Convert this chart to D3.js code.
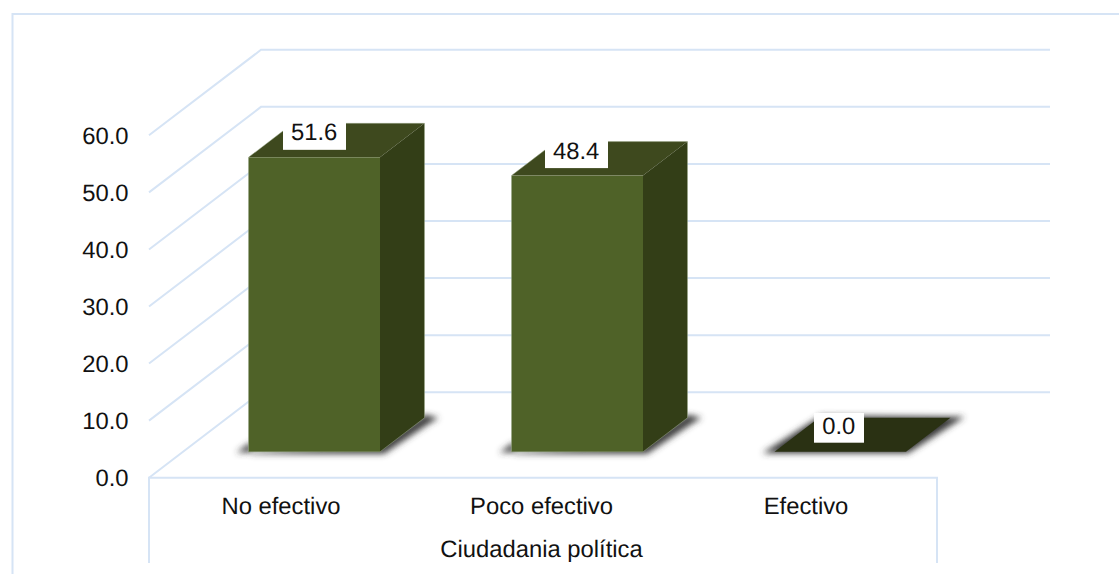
<!DOCTYPE html>
<html><head><meta charset="utf-8">
<script src="https://cdn.jsdelivr.net/npm/d3@7/dist/d3.min.js"></script>
<style>html,body{margin:0;padding:0;background:#fff}svg{display:block}text{font-family:"Liberation Sans",Arial,sans-serif;fill:#111;text-rendering:geometricPrecision}</style>
</head><body><div id="chart"></div>
<script>
const categories = ["No efectivo","Poco efectivo","Efectivo"];
const values = [51.6,48.4,0.0];
const yTicks = [0,10,20,30,40,50,60];
const axisTitle = "Ciudadania política";

const W=1119,H=574,fs=23.8;
const grid="#d6e4f5";
const y=d3.scaleLinear().domain([0,60]).range([477.7,135.3]);
const catCx=d3.scaleOrdinal().domain(categories).range([281,541.5,806]);
const depthX=112,depthY=-85.5;
const barDX=44.5,barDY=-34,barW=131.5,barBase=451.8;
const barLeft=[248.5,511.5,774.5];
const svg=d3.select("#chart").append("svg").attr("width",W).attr("height",H);
const defs=svg.append("defs");
defs.append("filter").attr("id","sh").attr("filterUnits","userSpaceOnUse").attr("x",0).attr("y",380).attr("width",W).attr("height",110)
  .append("feGaussianBlur").attr("stdDeviation",3.2);

// outer frame: left and top edges only reach the picture
svg.append("path").attr("d",`M12.5,574V14H1119`).attr("fill","none").attr("stroke",grid).attr("stroke-width",2);

// walls and gridlines
const g=svg.append("g").attr("fill","none").attr("stroke",grid).attr("stroke-width",2);
yTicks.forEach(t=>{
  const yf=y(t);
  g.append("path").attr("d",d3.line()([[149,yf],[149+depthX,yf+depthY],[1050,yf+depthY]]));
});
g.append("path").attr("d",d3.line()([[149,563],[149,477.7],[937,477.7],[937,563]]));

// y tick labels
svg.append("g").selectAll("text").data(yTicks).join("text")
 .attr("x",128.5).attr("y",d=>y(d)).attr("dy","0.36em").attr("text-anchor","end").attr("font-size",fs)
 .text(d=>d.toFixed(1));

// bars
const bars=svg.append("g");
values.forEach((v,i)=>{
  const l=barLeft[i],r=l+barW,b=barBase,h=y(0)-y(v),t=b-h;
  const pt=(a)=>a.map(p=>p.join(",")).join(" ");
  const shadow=v>0
    ?[[l-12,b+1],[l+3,b-10],[l+3,b+2],[r+4,b+2],[r+barDX+4,b+barDY+6],[r+barDX+14,b+barDY],[r+barDX,b+barDY-3],[r,b-8]]
    :[[l-12,b+1.5],[r+2,b+1.5],[r+barDX+14,b+barDY-1],[l+barDX+2,b+barDY-2]];
  bars.append("polygon").attr("points",pt(shadow)).attr("fill","#3a3a3a").attr("filter","url(#sh)");
  if(v>0){
    bars.append("polygon").attr("points",pt([[l,t],[r,t],[r+barDX,t+barDY],[l+barDX,t+barDY]])).attr("fill","#3e491e");
    bars.append("polygon").attr("points",pt([[r,t],[r+barDX,t+barDY],[r+barDX,b+barDY],[r,b]])).attr("fill","#333e17");
    bars.append("rect").attr("x",l).attr("y",t).attr("width",barW).attr("height",h).attr("fill","#4f6228");
    bars.append("polygon").attr("points",pt([[l,t],[l+barDX,t+barDY],[r+barDX,t+barDY],[r+barDX,b+barDY],[r,b],[l,b]]))
      .attr("fill","none").attr("stroke","#9aa88a").attr("stroke-width",0.8).attr("stroke-opacity",0.6);
  } else {
    bars.append("polygon").attr("points",pt([[l,b],[r,b],[r+barDX,b+barDY],[l+barDX,b+barDY]])).attr("fill","#2a3113");
  }
});

// data labels
const labelCx=[314.5,576.5,839];
const labelW=[63,63,50];
const lab=svg.append("g");
values.forEach((v,i)=>{
  const h=y(0)-y(v),t=barBase-h;
  const bot=v>0?t-7.5:442.7;
  const top=v>0?bot-28:413;
  lab.append("rect").attr("x",labelCx[i]-labelW[i]/2).attr("y",top).attr("width",labelW[i]).attr("height",bot-top).attr("fill","#fff");
  lab.append("text").attr("x",labelCx[i]-0.3).attr("y",bot-(v>0?18:17)).attr("dy","0.36em").attr("text-anchor","middle").attr("font-size",fs).text(v.toFixed(1));
});

// categories
svg.append("g").selectAll("text").data(categories).join("text")
 .attr("x",d=>catCx(d)).attr("y",505).attr("dy","0.36em").attr("text-anchor","middle").attr("font-size",fs).text(d=>d);
svg.append("text").attr("x",541.5).attr("y",548).attr("dy","0.36em").attr("text-anchor","middle").attr("font-size",fs).text(axisTitle);
</script></body></html>
